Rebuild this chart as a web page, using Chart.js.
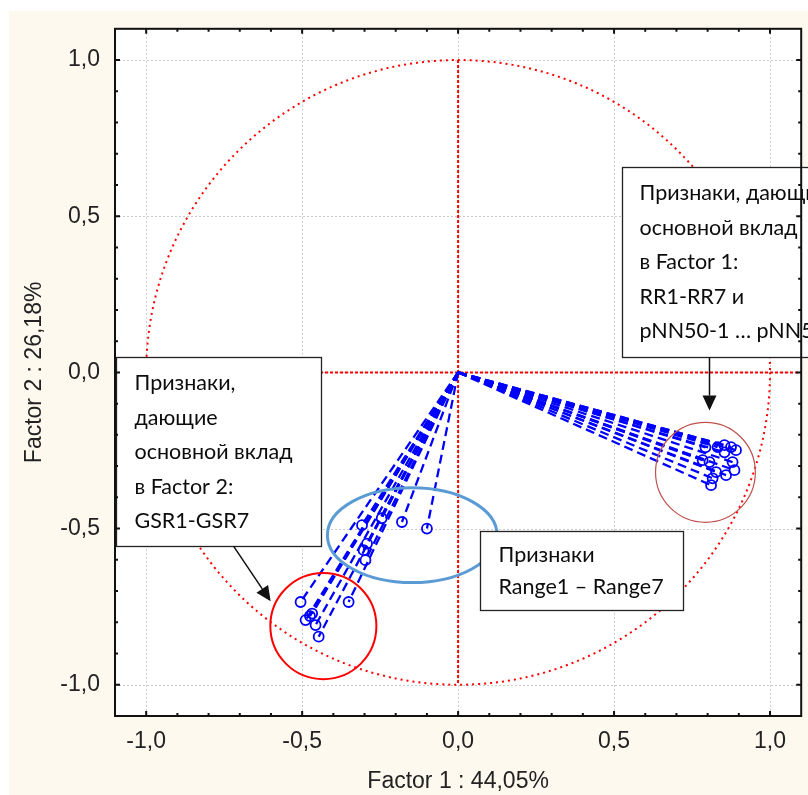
<!DOCTYPE html>
<html>
<head>
<meta charset="utf-8">
<script src="https://cdn.jsdelivr.net/npm/chart.js@4.4.1/dist/chart.umd.min.js"></script>
<style>
html, body { margin: 0; padding: 0; background: #fff; }
#wrap { width: 808px; height: 795px; position: relative; }
</style>
</head>
<body>
<div id="wrap"><canvas id="LoadingsChart"></canvas></div>
<script>
// factor loadings (Factor 1, Factor 2)
var rrX = [0.891, 0.875, 0.854, 0.832, 0.793, 0.784, 0.806, 0.880, 0.886, 0.859, 0.827, 0.816, 0.811, 0.854];
var rrY = [-0.249, -0.239, -0.233, -0.239, -0.240, -0.281, -0.287, -0.287, -0.313, -0.329, -0.319, -0.339, -0.361, -0.256];

var rangeX = [-0.100, -0.180, -0.245, -0.308, -0.292, -0.303, -0.297];
var rangeY = [-0.500, -0.479, -0.467, -0.489, -0.548, -0.569, -0.601];

var gsrX = [-0.351, -0.505, -0.468, -0.489, -0.457, -0.447, -0.475];
var gsrY = [-0.735, -0.735, -0.772, -0.793, -0.809, -0.846, -0.780];

var tickValues = [-1.0, -0.5, 0.0, 0.5, 1.0];
var axisMin = -1.1, axisMax = 1.1;

var xTitle = 'Factor 1 : 44,05%';
var yTitle = 'Factor 2 : 26,18%';

// callouts, in data units
var notes = [
   { x0: 0.524, y0: 0.656, x1: 1.40, y1: 0.048, pad: 17, first: 26, step: 34.5,
     lines: ['Признаки, дающие', 'основной вклад', 'в Factor 1:', 'RR1-RR7 и', 'pNN50-1 … pNN50-7'] },
   { x0: -1.097, y0: 0.048, x1: -0.438, y1: -0.556, pad: 18, first: 26, step: 34.5,
     lines: ['Признаки,', 'дающие', 'основной вклад', 'в Factor 2:', 'GSR1-GSR7'] },
   { x0: 0.070, y0: -0.508, x1: 0.720, y1: -0.761, pad: 18, first: 24, step: 32,
     lines: ['Признаки', 'Range1 – Range7'] }
];
var rings = [
   { x: -0.147, y: -0.521, rx: 0.272, ry: 0.152, color: '#5b9bd5', width: 3 },
   { x: -0.432, y: -0.812, rx: 0.170, ry: 0.170, color: '#ff0000', width: 2 },
   { x: 0.793, y: -0.320, rx: 0.160, ry: 0.160, color: '#c0504d', width: 1.2 }
];
var arrows = [
   { x0: 0.806, y0: 0.048, x1: 0.806, y1: -0.122 },
   { x0: -0.720, y0: -0.556, x1: -0.601, y1: -0.733 }
];

function fmt(v) {
   return Number(v).toFixed(1).replace('.', ',');
}

function vectorSets(xs, ys) {
   var out = [];
   for (var i = 0; i < xs.length; i++) {
      out.push({
         data: [{ x: 0, y: 0 }, { x: xs[i], y: ys[i] }],
         showLine: true,
         borderColor: '#0000ff',
         borderWidth: 2.3,
         borderDash: [9, 5],
         pointRadius: [0, 5],
         pointBorderWidth: 1.8,
         pointBorderColor: '#0000ff',
         pointBackgroundColor: 'rgba(0,0,0,0)',
         pointStyle: 'circle',
         tension: 0
      });
   }
   return out;
}

var datasets = [].concat(vectorSets(rrX, rrY), vectorSets(rangeX, rangeY), vectorSets(gsrX, gsrY));

var framePlugin = {
   id: 'frame',
   beforeDraw: function(chart) {
      var ctx = chart.ctx, a = chart.chartArea;
      ctx.save();
      ctx.fillStyle = '#ffffff';
      ctx.fillRect(0, 0, chart.width, chart.height);
      ctx.fillStyle = '#fdf9ef';
      ctx.fillRect(9, 11, chart.width - 9, chart.height - 11);
      ctx.fillStyle = '#ffffff';
      ctx.fillRect(a.left, a.top, a.right - a.left, a.bottom - a.top);
      ctx.restore();
   },
   beforeDatasetsDraw: function(chart) {
      var ctx = chart.ctx, a = chart.chartArea;
      var xs = chart.scales.x, ys = chart.scales.y;
      ctx.save();
      // dotted grid
      ctx.strokeStyle = '#cccccc';
      ctx.lineWidth = 1;
      ctx.setLineDash([2, 2]);
      tickValues.forEach(function(v) {
         var px = Math.round(xs.getPixelForValue(v)) + 0.5;
         var py = Math.round(ys.getPixelForValue(v)) + 0.5;
         ctx.beginPath();
         ctx.moveTo(px, a.top); ctx.lineTo(px, a.bottom);
         ctx.moveTo(a.left, py); ctx.lineTo(a.right, py);
         ctx.stroke();
      });
      // unit circle
      var cx = xs.getPixelForValue(0), cy = ys.getPixelForValue(0);
      ctx.strokeStyle = '#ff0000';
      ctx.lineWidth = 2;
      ctx.setLineDash([2, 4]);
      ctx.beginPath();
      ctx.ellipse(cx, cy, xs.getPixelForValue(1) - cx, cy - ys.getPixelForValue(1), 0, 0, Math.PI * 2);
      ctx.stroke();
      // zero lines
      ctx.setLineDash([3, 2]);
      ctx.beginPath();
      ctx.moveTo(cx, ys.getPixelForValue(1)); ctx.lineTo(cx, ys.getPixelForValue(-1));
      ctx.moveTo(a.left, cy); ctx.lineTo(a.right, cy);
      ctx.stroke();
      ctx.restore();
   },
   afterDatasetsDraw: function(chart) {
      var ctx = chart.ctx, a = chart.chartArea;
      var xs = chart.scales.x, ys = chart.scales.y;
      ctx.save();
      ctx.setLineDash([]);

      rings.forEach(function(r) {
         var cx = xs.getPixelForValue(r.x), cy = ys.getPixelForValue(r.y);
         ctx.strokeStyle = r.color;
         ctx.lineWidth = r.width;
         ctx.beginPath();
         ctx.ellipse(cx, cy, xs.getPixelForValue(r.x + r.rx) - cx, cy - ys.getPixelForValue(r.y + r.ry), 0, 0, Math.PI * 2);
         ctx.stroke();
      });

      notes.forEach(function(n) {
         var l = Math.round(xs.getPixelForValue(n.x0)) + 0.5;
         var t = Math.round(ys.getPixelForValue(n.y0)) + 0.5;
         var r = Math.round(xs.getPixelForValue(n.x1)) + 0.5;
         var b = Math.round(ys.getPixelForValue(n.y1)) + 0.5;
         ctx.fillStyle = '#ffffff';
         ctx.fillRect(l, t, r - l, b - t);
         ctx.strokeStyle = '#222222';
         ctx.lineWidth = 1.3;
         ctx.strokeRect(l, t, r - l, b - t);
         ctx.fillStyle = '#0c0c0c';
         ctx.font = '21.5px Lato';
         ctx.textBaseline = 'middle';
         ctx.textAlign = 'left';
         n.lines.forEach(function(s, i) {
            ctx.fillText(s, l + n.pad, t + n.first + i * n.step);
         });
      });

      arrows.forEach(function(ar) {
         var x0 = xs.getPixelForValue(ar.x0), y0 = ys.getPixelForValue(ar.y0);
         var x1 = xs.getPixelForValue(ar.x1), y1 = ys.getPixelForValue(ar.y1);
         var ang = Math.atan2(y1 - y0, x1 - x0);
         var hl = 15, hw = 7;
         ctx.strokeStyle = '#111111';
         ctx.fillStyle = '#111111';
         ctx.lineWidth = 1.5;
         ctx.beginPath();
         ctx.moveTo(x0, y0);
         ctx.lineTo(x1 - Math.cos(ang) * hl, y1 - Math.sin(ang) * hl);
         ctx.stroke();
         ctx.beginPath();
         ctx.moveTo(x1, y1);
         ctx.lineTo(x1 - Math.cos(ang) * hl - Math.sin(ang) * hw, y1 - Math.sin(ang) * hl + Math.cos(ang) * hw);
         ctx.lineTo(x1 - Math.cos(ang) * hl + Math.sin(ang) * hw, y1 - Math.sin(ang) * hl - Math.cos(ang) * hw);
         ctx.closePath();
         ctx.fill();
      });

      // inward tick marks every 0.1 and the plot frame
      ctx.strokeStyle = '#111111';
      ctx.lineWidth = 2;
      ctx.beginPath();
      for (var k = -10; k <= 10; k++) {
         var len = (k % 5 === 0) ? 5 : 3;
         var px = xs.getPixelForValue(k / 10), py = ys.getPixelForValue(k / 10);
         ctx.moveTo(px, a.bottom); ctx.lineTo(px, a.bottom - len);
         ctx.moveTo(px, a.top); ctx.lineTo(px, a.top + len);
         ctx.moveTo(a.left, py); ctx.lineTo(a.left + len, py);
         ctx.moveTo(a.right, py); ctx.lineTo(a.right - len, py);
      }
      ctx.stroke();
      ctx.strokeRect(a.left, a.top, a.right - a.left, a.bottom - a.top);
      ctx.restore();
   }
};

var axisFont = { family: 'Liberation Sans', size: 23 };

function setTicks(scale) {
   scale.ticks = tickValues.map(function(v) { return { value: v }; });
}

var loadingsCanvas = document.getElementById('LoadingsChart').getContext('2d');

var LoadingsChart = new Chart(loadingsCanvas, {
   type: 'scatter',
   data: { datasets: datasets },
   options: {
      responsive: true,
      maintainAspectRatio: false,
      animation: false,
      layout: { padding: { left: 0, top: 28, right: 5, bottom: 0 } },
      plugins: {
         legend: { display: false },
         tooltip: { enabled: false }
      },
      scales: {
         x: {
            type: 'linear',
            min: axisMin,
            max: axisMax,
            afterBuildTicks: setTicks,
            afterFit: function(s) { s.height = 79; },
            grid: { display: false, drawTicks: false },
            border: { display: false },
            ticks: { padding: 12, font: axisFont, color: '#222', maxRotation: 0, autoSkip: false, callback: fmt },
            title: { display: true, text: xTitle, font: axisFont, color: '#222', padding: { top: 0, bottom: 0 } }
         },
         y: {
            type: 'linear',
            min: axisMin,
            max: axisMax,
            afterBuildTicks: setTicks,
            afterFit: function(s) { s.width = 115; },
            grid: { display: false, drawTicks: false },
            border: { display: false },
            ticks: { padding: 15, font: axisFont, color: '#222', autoSkip: false, callback: fmt },
            title: { display: true, text: yTitle, font: axisFont, color: '#222', padding: { top: 21, bottom: 0 } }
         }
      }
   },
   plugins: [framePlugin]
});
</script>
</body>
</html>
